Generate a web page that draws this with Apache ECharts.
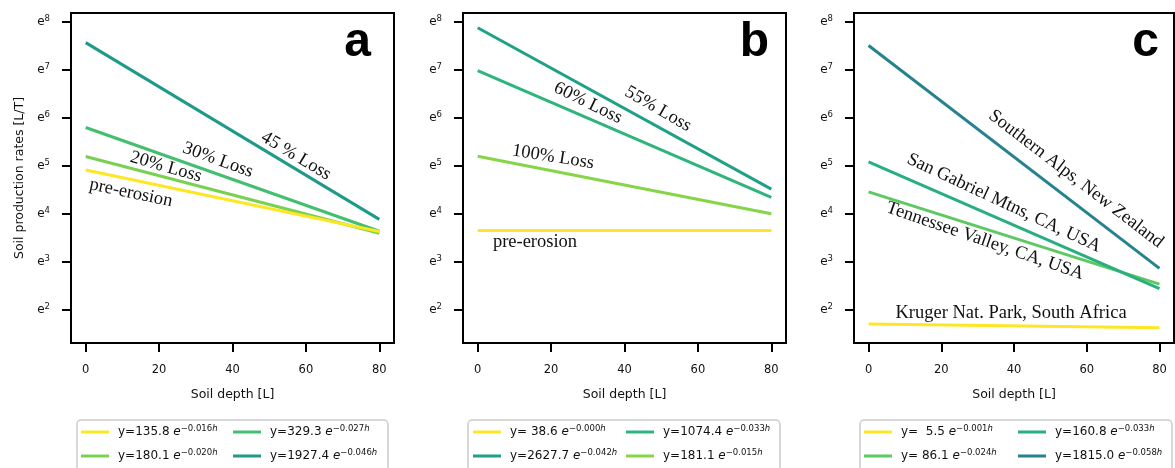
<!DOCTYPE html>
<html>
<head>
<meta charset="utf-8">
<script src="https://cdn.jsdelivr.net/npm/echarts@6/dist/echarts.min.js"></script>
<style>
html, body { margin: 0; padding: 0; background: #fff; }
#main { width: 1175px; height: 468px; }
</style>
</head>
<body>
<div id="main"></div>
<script>
// soil depth at both ends of every fitted line
var depths = [0, 80];
var yPowers = [2, 3, 4, 5, 6, 7, 8];
var xTicks = [0, 20, 40, 60, 80];

// panel a: erosion scenarios
var aNames = ['y=135.8 e^\u22120.016h', 'y=180.1 e^\u22120.020h', 'y=329.3 e^\u22120.027h', 'y=1927.4 e^\u22120.046h'];
var aStart = [135.8, 180.1, 329.3, 1927.4];
var aEnd = [37.76, 36.36, 37.98, 48.62];
var aColors = ['#fde725', '#7ad151', '#44bf70', '#1f9a8a'];

// panel b
var bNames = ['y= 38.6 e^\u22120.000h', 'y=2627.7 e^\u22120.042h', 'y=1074.4 e^\u22120.033h', 'y=181.1 e^\u22120.015h'];
var bStart = [38.6, 2627.7, 1074.4, 181.1];
var bEnd = [38.6, 91.27, 76.67, 54.55];
var bColors = ['#fde725', '#1fa187', '#2fb47c', '#86d549'];

// panel c: field sites
var cNames = ['y=  5.5 e^\u22120.001h', 'y= 86.1 e^\u22120.024h', 'y=160.8 e^\u22120.033h', 'y=1815.0 e^\u22120.058h'];
var cStart = [5.5, 86.1, 160.8, 1815.0];
var cEnd = [5.08, 12.62, 11.47, 17.52];
var cColors = ['#fde725', '#5ec962', '#29af7f', '#26828e'];

var panels = [
    { names: aNames, start: aStart, end: aEnd, colors: aColors, left: 71, width: 323, legX: 81, legX2: 233, box: [77, 311] },
    { names: bNames, start: bStart, end: bEnd, colors: bColors, left: 463, width: 323, legX: 473, legX2: 626, box: [468, 312] },
    { names: cNames, start: cStart, end: cEnd, colors: cColors, left: 854, width: 320, legX: 864, legX2: 1018, box: [860, 312] }
];

var tickFont = 'DejaVu Sans';
var serif = 'Liberation Serif';

function legendFmt(name) {
    var p = name.split(' e^');
    return '{t|' + p[0] + ' }{e|e}{s|' + p[1].slice(0, -1) + '}{h|h}';
}

var legendRich = {
    t: { fontSize: 12, fontFamily: tickFont, color: '#111', lineHeight: 16 },
    e: { fontSize: 12, fontFamily: tickFont, fontStyle: 'italic', color: '#111', lineHeight: 16 },
    s: { fontSize: 8.5, fontFamily: tickFont, color: '#111', verticalAlign: 'top', lineHeight: 9 },
    h: { fontSize: 8.5, fontFamily: tickFont, fontStyle: 'italic', color: '#111', verticalAlign: 'top', lineHeight: 9 }
};

var grids = [], xAxes = [], yAxes = [], series = [], legends = [], graphics = [];

panels.forEach(function (p, i) {
    grids.push({
        left: p.left, top: 13, width: p.width, height: 330,
        show: true, borderColor: '#000', borderWidth: 2, backgroundColor: 'transparent'
    });
    xAxes.push({
        type: 'value', gridIndex: i, min: -4, max: 84,
        name: 'Soil depth [L]', nameLocation: 'middle', nameGap: 45,
        nameTextStyle: { fontFamily: tickFont, fontSize: 12.5, color: '#111' },
        axisLine: { show: false, onZero: false },
        axisTick: { show: true, length: 9, lineStyle: { color: '#000', width: 2 }, customValues: xTicks },
        axisLabel: { margin: 21, fontFamily: tickFont, fontSize: 11.5, color: '#111', customValues: xTicks },
        splitLine: { show: false }
    });
    var yv = yPowers.map(function (n) { return Math.exp(n); });
    yAxes.push({
        type: 'log', logBase: Math.E, gridIndex: i,
        min: Math.exp(1.31), max: Math.exp(8.18),
        name: i === 0 ? 'Soil production rates [L/T]' : '',
        nameLocation: 'middle', nameGap: 45,
        nameTextStyle: { fontFamily: tickFont, fontSize: 12.5, color: '#111' },
        axisLine: { show: false, onZero: false },
        axisTick: { show: true, length: 9, lineStyle: { color: '#000', width: 2 }, customValues: yv },
        axisLabel: {
            margin: 21, customValues: yv,
            formatter: function (v) {
                return '{e|e}{s|' + Math.round(Math.log(v)) + '}';
            },
            rich: {
                e: { fontFamily: tickFont, fontSize: 12, color: '#111', lineHeight: 15 },
                s: { fontFamily: tickFont, fontSize: 8.5, color: '#111', verticalAlign: 'top', lineHeight: 9 }
            }
        },
        splitLine: { show: false }
    });
    p.names.forEach(function (nm, j) {
        series.push({
            type: 'line', name: nm, xAxisIndex: i, yAxisIndex: i,
            data: [[depths[0], p.start[j]], [depths[1], p.end[j]]],
            symbol: 'none', color: p.colors[j],
            lineStyle: { width: 3, color: p.colors[j] },
            z: 3 + (j === 0 ? 1 : 0)
        });
    });
    [[0, 1, p.legX], [2, 3, p.legX2]].forEach(function (c) {
        legends.push({
            orient: 'vertical', left: c[2], top: 424, itemGap: 10, padding: 0,
            itemWidth: 28, itemHeight: 3, icon: 'rect', selectedMode: false,
            data: [p.names[c[0]], p.names[c[1]]],
            formatter: legendFmt,
            textStyle: { padding: [0, 0, 0, 4], rich: legendRich }
        });
    });
    graphics.push({
        type: 'rect', z: -1,
        shape: { x: p.box[0], y: 420, width: p.box[1], height: 60, r: 4 },
        style: { fill: '#fff', stroke: '#cccccc', lineWidth: 1.5 }
    });
});

// panel letters
[['a', 371], ['b', 769], ['c', 1159]].forEach(function (l) {
    graphics.push({
        type: 'text', x: l[1], y: 67, z: 10,
        style: { text: l[0], font: 'bold 48px "Liberation Sans"', fill: '#000', textAlign: 'right', textVerticalAlign: 'bottom' }
    });
});

// line annotations: text, centre x, centre y, clockwise angle
var notes = [
    ['45 % Loss', 296, 156, 31],
    ['30% Loss', 218, 160, 20],
    ['20% Loss', 166, 167, 16],
    ['pre-erosion', 131, 193, 12],
    ['55% Loss', 658, 109, 30],
    ['60% Loss', 588, 103, 26],
    ['100% Loss', 553, 157, 9],
    ['pre-erosion', 535, 242, 0],
    ['Southern Alps, New Zealand', 1076, 179, 37.5],
    ['San Gabriel Mtns, CA, USA', 1004, 203, 25],
    ['Tennessee Valley, CA, USA', 985, 241, 19],
    ['Kruger Nat. Park, South Africa', 1011, 313, 0]
];
notes.forEach(function (n) {
    graphics.push({
        type: 'text', x: n[1], y: n[2], rotation: -n[3] * Math.PI / 180, z: 10,
        style: { text: n[0], font: '18.5px "' + serif + '"', fill: '#111', textAlign: 'center', textVerticalAlign: 'middle' }
    });
});

var chart = echarts.init(document.getElementById('main'));
chart.setOption({
    animation: false,
    backgroundColor: '#fff',
    grid: grids,
    xAxis: xAxes,
    yAxis: yAxes,
    legend: legends,
    series: series,
    graphic: graphics
});
</script>
</body>
</html>
